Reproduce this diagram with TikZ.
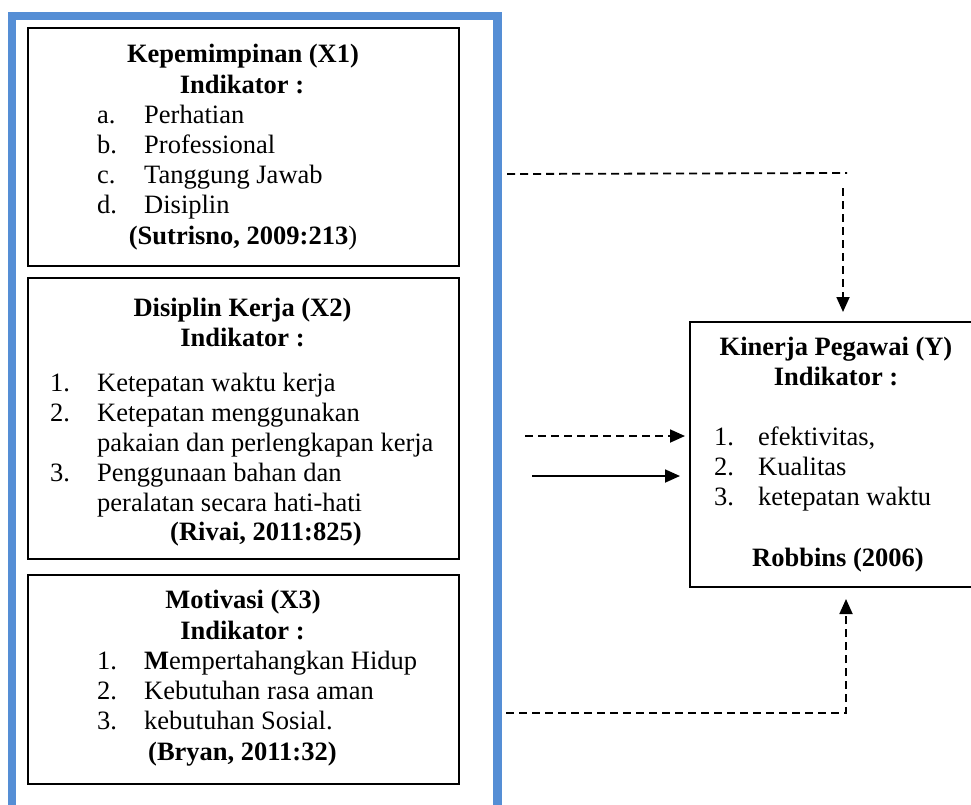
\documentclass[tikz,border=0pt]{standalone}
\usepackage{fontspec}
\setmainfont{Liberation Serif}
\usetikzlibrary{arrows.meta}
\definecolor{frameblue}{RGB}{85,142,213}
\begin{document}
\begin{tikzpicture}[x=1pt,y=-1pt,
  txt/.style={font=\fontsize{26.5}{30}\selectfont, inner sep=0pt, anchor=base west},
  ctr/.style={txt, anchor=base},
  vbox/.style={draw, line width=1.6pt, inner sep=0pt, anchor=north west},
  dline/.style={line width=1.8pt, dash pattern=on 8pt off 5pt},
  sline/.style={line width=1.8pt},
  tip/.style={-{Triangle[length=15pt,width=13pt]}}
]
\useasboundingbox (0,0) rectangle (971,804);
% blue frame
\draw[frameblue, line width=8.4pt] (12,830) -- (12,16) -- (497.5,16) -- (497.5,830);
% boxes
\node[vbox, minimum width=431pt, minimum height=238pt] (x1) at (27,27) {};
\node[vbox, minimum width=431pt, minimum height=281pt] (x2) at (27,277) {};
\node[vbox, minimum width=431pt, minimum height=209pt] (x3) at (27,574) {};
\node[vbox, minimum width=320pt, minimum height=265pt] (y) at (689,321) {};
% X1 text
\node[ctr] (x1t) at (243,62) {\textbf{Kepemimpinan (X1)}};
\node[ctr] (x1i) at (242,93) {\textbf{Indikator :}};
\node[txt] (x1an) at (97,123) {a.};
\node[txt] (x1a) at (144,123) {Perhatian};
\node[txt] (x1bn) at (97,153) {b.};
\node[txt] (x1b) at (144,153) {Professional};
\node[txt] (x1cn) at (97,183) {c.};
\node[txt] (x1c) at (144,183) {Tanggung Jawab};
\node[txt] (x1dn) at (97,213) {d.};
\node[txt] (x1d) at (144,213) {Disiplin};
\node[ctr] (x1r) at (243,244) {\textbf{(Sutrisno, 2009:213})};
% X2 text
\node[ctr] (x2t) at (242.5,316) {\textbf{Disiplin Kerja (X2)}};
\node[ctr] (x2i) at (242.5,346) {\textbf{Indikator :}};
\node[txt] (x2an) at (50,391) {1.};
\node[txt] (x2a) at (97,391) {Ketepatan waktu kerja};
\node[txt] (x2bn) at (50,421) {2.};
\node[txt] (x2b) at (97,421) {Ketepatan menggunakan};
\node[txt] (x2b2) at (97,451) {pakaian dan perlengkapan kerja};
\node[txt] (x2cn) at (50,481) {3.};
\node[txt] (x2c) at (97,481) {Penggunaan bahan dan};
\node[txt] (x2c2) at (97,511) {peralatan secara hati-hati};
\node[txt] (x2r) at (170,540) {\textbf{(Rivai, 2011:825)}};
% X3 text
\node[ctr] (x3t) at (243,608) {\textbf{Motivasi (X3)}};
\node[ctr] (x3i) at (242.5,639) {\textbf{Indikator :}};
\node[txt] (x3an) at (97,669) {1.};
\node[txt] (x3a) at (144,669) {\textbf{M}empertahangkan Hidup};
\node[txt] (x3bn) at (97,699) {2.};
\node[txt] (x3b) at (144,699) {Kebutuhan rasa aman};
\node[txt] (x3cn) at (97,729) {3.};
\node[txt] (x3c) at (144,729) {kebutuhan Sosial.};
\node[txt] (x3r) at (148,760) {\textbf{(Bryan, 2011:32)}};
% Y text
\node[ctr] (yt) at (836,355) {\textbf{Kinerja Pegawai (Y)}};
\node[ctr] (yi) at (836,385) {\textbf{Indikator :}};
\node[txt] (yan) at (714,445) {1.};
\node[txt] (ya) at (758,445) {efektivitas,};
\node[txt] (ybn) at (714,475) {2.};
\node[txt] (yb) at (758,475) {Kualitas};
\node[txt] (ycn) at (714,505) {3.};
\node[txt] (yc) at (758,505) {ketepatan waktu};
\node[ctr] (yr) at (838,566) {\textbf{Robbins (2006)}};
% connectors
\coordinate (t1) at (507,174);
\coordinate (t2) at (847,173);
\coordinate (t3) at (843,188);
\coordinate (t4) at (843,312);
\coordinate (m1) at (525,436);
\coordinate (m2) at (685,436);
\coordinate (s1) at (532,476);
\coordinate (s2) at (680,476);
\coordinate (b1) at (506,713);
\coordinate (b2) at (846,713);
\coordinate (b3) at (846,599);
\draw[dline] (t1) -- (t2);
\draw[dline, tip] (t3) -- (t4);
\draw[dline, tip] (m1) -- (m2);
\draw[sline, tip] (s1) -- (s2);
\draw[dline, tip] (b1) -- (b2) -- (b3);
\end{tikzpicture}
\end{document}
